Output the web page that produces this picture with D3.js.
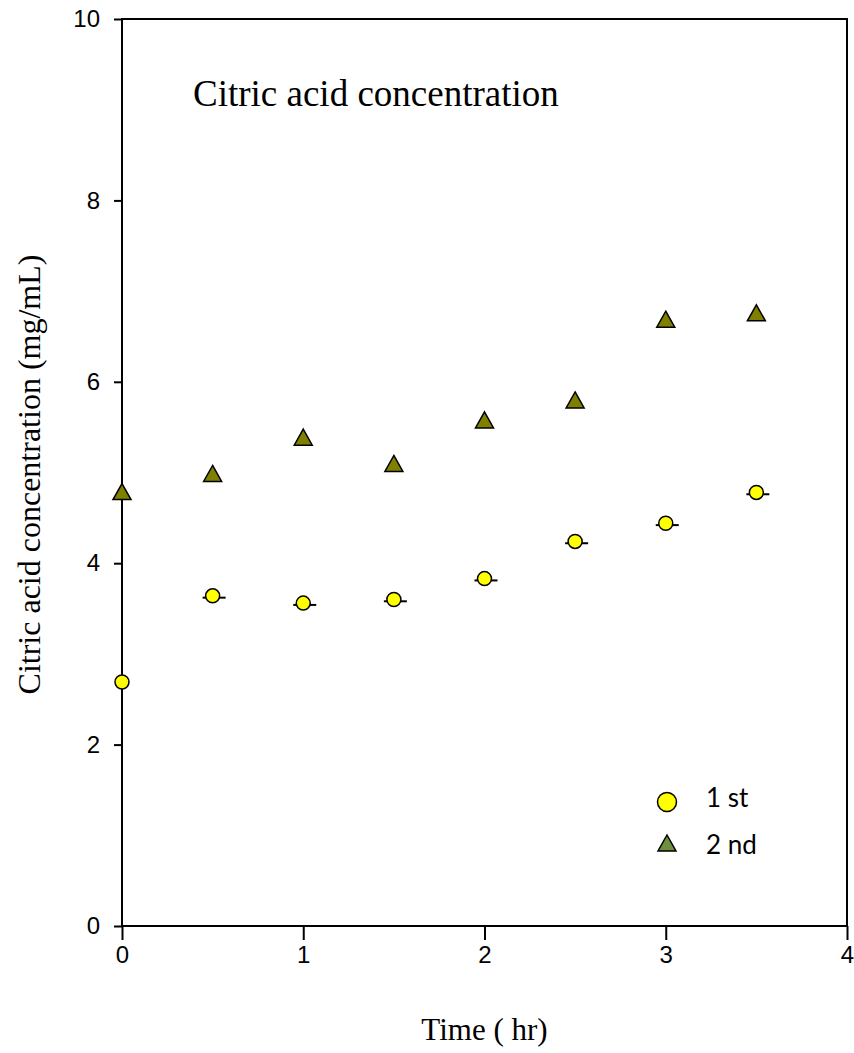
<!DOCTYPE html>
<html>
<head>
<meta charset="utf-8">
<script src="https://cdn.jsdelivr.net/npm/d3@7"></script>
<style>
  body { margin: 0; background: #fff; }
  svg { display: block; }
</style>
</head>
<body>
<svg id="chart" width="854" height="1053"></svg>
<script>
// data
const hours = [0, 0.5, 1, 1.5, 2, 2.5, 3, 3.5];
const run1 = [2.69, 3.64, 3.56, 3.60, 3.83, 4.24, 4.44, 4.78];
const run1Err = [0, 0.02, 0.02, 0.02, 0.02, 0.02, 0.02, 0.02];
const run2 = [4.79, 4.99, 5.39, 5.10, 5.58, 5.80, 6.69, 6.76];
const xTicks = [0, 1, 2, 3, 4];
const yTicks = [0, 2, 4, 6, 8, 10];
const legendLabels = ['1 st', '2 nd'];

const svg = d3.select('#chart');

const x = d3.scaleLinear().domain([0, 4]).range([122, 847]);
const y = d3.scaleLinear().domain([0, 10]).range([926, 19]);

// frame
svg.append('rect')
    .attr('x', x(0))
    .attr('y', y(10))
    .attr('width', x(4) - x(0))
    .attr('height', y(0) - y(10))
    .attr('fill', 'none')
    .attr('stroke', '#000')
    .attr('stroke-width', 2);

// axes
const xAxis = svg.append('g')
    .attr('transform', `translate(0,${y(0)})`)
    .call(d3.axisBottom(x).tickValues(xTicks).tickFormat(d3.format('d')).tickSize(14).tickPadding(6));
const yAxis = svg.append('g')
    .attr('transform', `translate(${x(0)},0)`)
    .call(d3.axisLeft(y).tickValues(yTicks).tickFormat(d3.format('d')).tickSize(8).tickPadding(14));

[xAxis, yAxis].forEach(g => {
    g.select('.domain').remove();
    g.selectAll('line').attr('stroke', '#000').attr('stroke-width', 2);
    g.selectAll('text')
        .attr('fill', '#000')
        .style('font-family', 'Arial, "Liberation Sans", sans-serif')
        .style('font-size', '24px');
});

// error caps (behind the circles)
svg.append('g').selectAll('line')
    .data(hours.map((h, i) => ({ h, v: run1[i], e: run1Err[i] })).filter(d => d.e > 0))
    .join('line')
    .attr('x1', d => x(d.h) - 10)
    .attr('x2', d => x(d.h) + 13)
    .attr('y1', d => y(d.v - d.e))
    .attr('y2', d => y(d.v - d.e))
    .attr('stroke', '#000')
    .attr('stroke-width', 2);

// 1st run
svg.append('g').selectAll('circle')
    .data(hours.map((h, i) => ({ h, v: run1[i] })))
    .join('circle')
    .attr('cx', d => x(d.h))
    .attr('cy', d => y(d.v))
    .attr('r', 7)
    .attr('fill', '#ffff00')
    .attr('stroke', '#000')
    .attr('stroke-width', 1.5);

// 2nd run
const tri = (w, h) => `M0,${-h / 2}L${w / 2},${h / 2}L${-w / 2},${h / 2}Z`;
svg.append('g').selectAll('path')
    .data(hours.map((h, i) => ({ h, v: run2[i] })))
    .join('path')
    .attr('transform', d => `translate(${x(d.h)},${y(d.v)})`)
    .attr('d', tri(18, 16))
    .attr('fill', '#808000')
    .attr('stroke', '#000')
    .attr('stroke-width', 1.5);

// title inside plot
svg.append('text')
    .attr('x', 193)
    .attr('y', 106)
    .style('font-family', '"Times New Roman", "Liberation Serif", serif')
    .style('font-size', '37px')
    .text('Citric acid concentration');

// axis titles
svg.append('text')
    .attr('x', x(2))
    .attr('y', 1040)
    .attr('text-anchor', 'middle')
    .style('font-family', '"Times New Roman", "Liberation Serif", serif')
    .style('font-size', '31px')
    .text('Time ( hr)');

svg.append('text')
    .attr('transform', `translate(40,${(y(0) + y(10)) / 2 + 2}) rotate(-90)`)
    .attr('text-anchor', 'middle')
    .style('font-family', '"Times New Roman", "Liberation Serif", serif')
    .style('font-size', '32px')
    .text('Citric acid concentration (mg/mL)');

// legend
const legend = svg.append('g').attr('transform', 'translate(667,802)');
legend.append('circle')
    .attr('r', 9.5)
    .attr('fill', '#ffff00')
    .attr('stroke', '#000')
    .attr('stroke-width', 1.5);
legend.append('path')
    .attr('transform', 'translate(0,41)')
    .attr('d', tri(18, 16))
    .attr('fill', '#6e8f3c')
    .attr('stroke', '#000')
    .attr('stroke-width', 1.5);
legend.selectAll('text')
    .data(legendLabels)
    .join('text')
    .attr('x', 39)
    .attr('y', (d, i) => 5 + i * 47)
    .style('font-family', 'Lato, "Open Sans", sans-serif')
    .style('font-size', '26px')
    .text(d => d);
</script>
</body>
</html>
